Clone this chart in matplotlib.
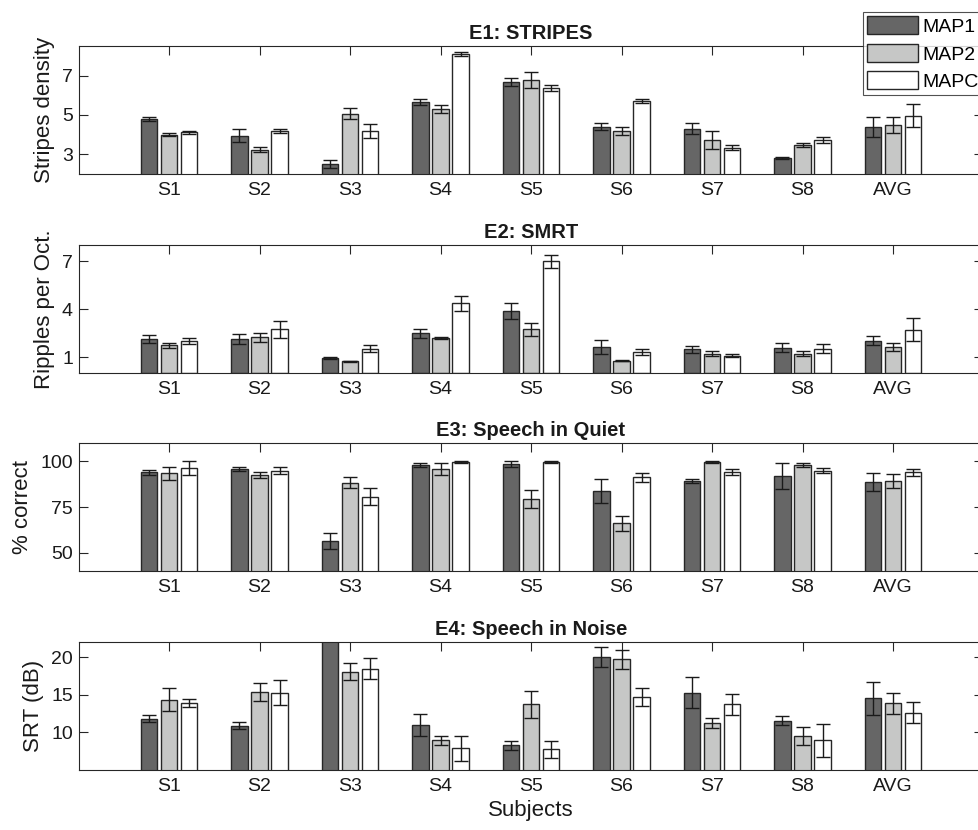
import matplotlib
matplotlib.use("Agg")
import matplotlib.pyplot as plt
import numpy as np

plt.rcParams['font.family'] = ['Liberation Sans', 'DejaVu Sans']

subjects = ["S1", "S2", "S3", "S4", "S5", "S6", "S7", "S8", "AVG"]
maps = ["MAP1", "MAP2", "MAPC"]

# E1: STRIPES
e1_map1 = [4.79, 3.95, 2.52, 5.65, 6.67, 4.41, 4.31, 2.81, 4.38]
e1_map2 = [4.00, 3.23, 5.07, 5.31, 6.78, 4.17, 3.71, 3.49, 4.48]
e1_mapc = [4.12, 4.20, 4.20, 8.10, 6.37, 5.72, 3.34, 3.73, 4.97]
e1_err1 = [0.09, 0.33, 0.20, 0.15, 0.19, 0.16, 0.28, 0.05, 0.49]
e1_err2 = [0.08, 0.13, 0.28, 0.20, 0.39, 0.20, 0.46, 0.10, 0.41]
e1_errc = [0.08, 0.10, 0.35, 0.11, 0.13, 0.10, 0.14, 0.14, 0.57]

# E2: SMRT
e2_map1 = [2.13, 2.13, 0.96, 2.47, 3.87, 1.61, 1.47, 1.59, 2.03]
e2_map2 = [1.72, 2.24, 0.73, 2.20, 2.72, 0.77, 1.21, 1.21, 1.61]
e2_mapc = [1.99, 2.72, 1.53, 4.36, 6.97, 1.31, 1.09, 1.53, 2.70]
e2_err1 = [0.25, 0.33, 0.07, 0.30, 0.52, 0.43, 0.24, 0.30, 0.31]
e2_err2 = [0.18, 0.28, 0.02, 0.07, 0.38, 0.03, 0.17, 0.16, 0.24]
e2_errc = [0.19, 0.53, 0.21, 0.47, 0.39, 0.20, 0.12, 0.27, 0.72]

# E3: Speech in Quiet
e3_map1 = [94.1, 95.8, 56.6, 98.0, 98.5, 83.8, 89.2, 91.9, 88.6]
e3_map2 = [93.4, 92.5, 88.2, 95.8, 79.2, 66.0, 99.6, 98.0, 89.2]
e3_mapc = [96.3, 94.9, 80.7, 99.4, 99.6, 91.2, 94.1, 94.9, 93.9]
e3_err1 = [1.4, 1.1, 4.4, 1.2, 1.5, 6.4, 1.3, 7.2, 5.1]
e3_err2 = [3.4, 1.9, 3.0, 3.3, 4.9, 3.9, 0.5, 1.3, 4.0]
e3_errc = [3.7, 1.9, 4.8, 0.6, 0.4, 2.6, 1.6, 1.5, 2.1]

# E4: Speech in Noise (S3 MAP1 runs off the top of the axis)
e4_map1 = [11.79, 10.85, 30.0, 10.98, 8.30, 20.04, 15.27, 11.52, 14.50]
e4_map2 = [14.33, 15.40, 18.08, 8.97, 13.75, 19.69, 11.25, 9.51, 13.88]
e4_mapc = [13.88, 15.27, 18.48, 7.90, 7.77, 14.69, 13.75, 8.97, 12.59]
e4_err1 = [0.47, 0.47, 0.0, 1.45, 0.60, 1.30, 2.08, 0.60, 2.23]
e4_err2 = [1.54, 1.20, 1.16, 0.60, 1.80, 1.27, 0.69, 1.14, 1.38]
e4_errc = [0.54, 1.63, 1.34, 1.65, 1.14, 1.25, 1.40, 2.19, 1.38]

panels = [
    ("E1: STRIPES", "Stripes density", (2, 8.5), [3, 5, 7],
     [e1_map1, e1_map2, e1_mapc], [e1_err1, e1_err2, e1_errc]),
    ("E2: SMRT", "Ripples per Oct.", (0, 8), [1, 4, 7],
     [e2_map1, e2_map2, e2_mapc], [e2_err1, e2_err2, e2_errc]),
    ("E3: Speech in Quiet", "% correct", (40, 110), [50, 75, 100],
     [e3_map1, e3_map2, e3_mapc], [e3_err1, e3_err2, e3_errc]),
    ("E4: Speech in Noise", "SRT (dB)", (5, 22), [10, 15, 20],
     [e4_map1, e4_map2, e4_mapc], [e4_err1, e4_err2, e4_errc]),
]

colors = ["#666666", "#c6c7c6", "#ffffff"]
edge = "#262626"
W, H = 979, 830
fig = plt.figure(figsize=(W / 100, H / 100), dpi=100)

# pixel boxes (top, bottom) of each axes
boxes = [(46, 174), (245, 373), (443, 571), (642, 770)]
left, right = 78.5, 983.5

x = np.arange(1, len(subjects) + 1)
offs = [-0.222, 0.0, 0.222]
bw = 0.185

handles = []
for (title, ylab, ylim, yticks, vals, errs), (top, bot) in zip(panels, boxes):
    ax = fig.add_axes([left / W, 1 - bot / H, (right - left) / W, (bot - top) / H])
    for k in range(3):
        b = ax.bar(x + offs[k], vals[k], width=bw, color=colors[k],
                   edgecolor=edge, linewidth=1.0, zorder=2)
        ax.errorbar(x + offs[k], vals[k], yerr=errs[k], fmt="none",
                    ecolor="#1a1a1a", elinewidth=1.0, capsize=5, capthick=1.0, zorder=3)
        if title.startswith("E1"):
            handles.append(b)
    ax.set_xlim(0, 10)
    ax.set_ylim(*ylim)
    ax.set_yticks(yticks)
    ax.set_xticks(x)
    ax.set_xticklabels(subjects)
    ax.tick_params(direction="in", length=6.5, width=0.8, colors="#262626",
                   top=True, right=True, labelsize=14, pad=6)
    ax.tick_params(axis="x", labelcolor="#1a1a1a")
    ax.tick_params(axis="y", labelcolor="#1a1a1a", pad=4)
    for sp in ax.spines.values():
        sp.set_color("#262626")
        sp.set_linewidth(0.8)
        sp.set_zorder(4)
    ax.set_title(title, fontsize=14.5, fontweight="bold", pad=5, color="#1a1a1a")
    ax.set_ylabel(ylab, fontsize=16, labelpad=5, color="#1a1a1a")
    if title.startswith("E4"):
        ax.set_xlabel("Subjects", fontsize=16, labelpad=3, color="#1a1a1a")

leg = fig.legend(handles, maps, loc="upper right", bbox_to_anchor=(1.004, 1 - 12 / H),
                 fontsize=14, frameon=True, fancybox=False, handlelength=2.63,
                 handleheight=1.03, handletextpad=0.2, labelspacing=0.41,
                 borderpad=0.23, borderaxespad=0)
leg.get_frame().set_edgecolor("#262626")
leg.get_frame().set_linewidth(0.8)

fig.savefig("out.png", dpi=100)
